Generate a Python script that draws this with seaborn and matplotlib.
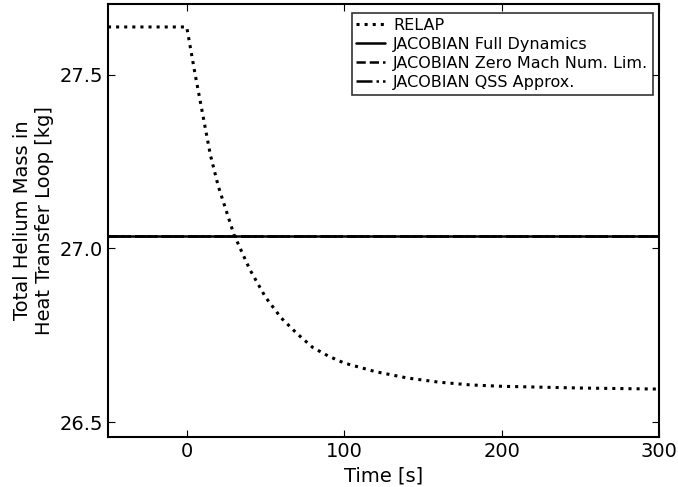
"""
Total helium mass in heat transfer loop: RELAP vs JACOBIAN
"""
import numpy as np
import pandas as pd
import matplotlib
matplotlib.use('Agg')
import matplotlib.pyplot as plt
import seaborn as sns

# RELAP transient
relap_t = [-50, 0, 5, 10, 15, 20, 25, 30, 40, 50, 60, 70, 80, 90, 100,
           120, 140, 160, 180, 200, 250, 300]
relap_mass = [27.638, 27.638, 27.51, 27.39, 27.27, 27.18, 27.11, 27.04, 26.94,
              26.86, 26.80, 26.755, 26.715, 26.69, 26.67, 26.645, 26.627,
              26.615, 26.607, 26.603, 26.598, 26.595]

# JACOBIAN models: constant total mass
jac_t = [-50, 300]
jac_full = [27.037, 27.037]
jac_zero_mach = [27.037, 27.037]
jac_qss = [27.037, 27.037]

x_ticks = [0, 100, 200, 300]
y_ticks = [26.5, 27.0, 27.5]

sns.set_style('ticks')
plt.rcParams['font.family'] = ['DejaVu Sans']
plt.rcParams['xtick.direction'] = 'in'
plt.rcParams['ytick.direction'] = 'in'
# plain black text like the original
for key in ['text.color', 'axes.labelcolor', 'xtick.color', 'ytick.color']:
    plt.rcParams[key] = 'black'

fig = plt.figure(figsize=(6.78, 4.87), dpi=100)
ax = fig.add_axes([0.1593, 0.1027, 0.8127, 0.889])

sns.lineplot(x=relap_t, y=relap_mass, ax=ax, color='k', linestyle=':',
             linewidth=2.2, label='RELAP')
sns.lineplot(x=jac_t, y=jac_full, ax=ax, color='k', linestyle='-',
             linewidth=1.8, label='JACOBIAN Full Dynamics')
sns.lineplot(x=jac_t, y=jac_zero_mach, ax=ax, color='k', linestyle='--',
             linewidth=1.8, label='JACOBIAN Zero Mach Num. Lim.')
sns.lineplot(x=jac_t, y=jac_qss, ax=ax, color='k', linestyle='-.',
             linewidth=1.8, label='JACOBIAN QSS Approx.')

ax.set_xlim(-50, 300)
ax.set_ylim(26.457, 27.704)
ax.set_xticks(x_ticks)
ax.set_yticks(y_ticks)
ax.set_yticklabels([f'{v:.1f}' for v in y_ticks])
ax.tick_params(top=True, right=True, labelsize=14, length=5, width=0.8)
for s in ax.spines.values():
    s.set_linewidth(1.5)
    s.set_color('k')

ax.set_xlabel('Time [s]', fontsize=14)
ax.set_ylabel('Total Helium Mass in\nHeat Transfer Loop [kg]', fontsize=14)

leg = ax.legend(loc='upper right', bbox_to_anchor=(0.989, 0.979),
                fontsize=11.5, frameon=True, fancybox=False, borderaxespad=0,
                borderpad=0.3, handlelength=1.8, handletextpad=0.5,
                labelspacing=0.25)
leg.get_frame().set_edgecolor('k')
leg.get_frame().set_linewidth(1.2)

plt.savefig('out.png', dpi=100)
plt.close()
print("Saved: out.png")
